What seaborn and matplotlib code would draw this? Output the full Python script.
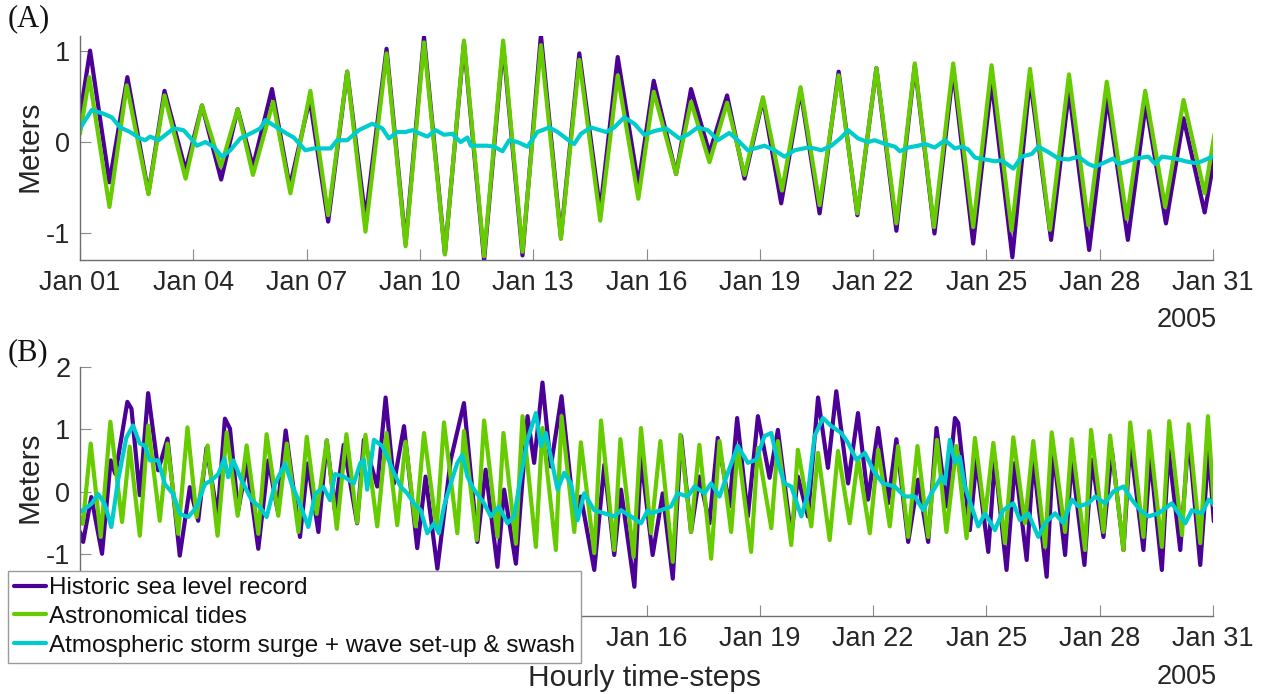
import matplotlib
matplotlib.use("Agg")
import matplotlib.pyplot as plt
import seaborn as sns
import pandas as pd

# ---------------- data (hour since Jan 01 00:00, metres) ----------------
# Panel A
sea_a = [(0,0.29),(6.4,1.00),(18.7,-0.44),(30.1,0.71),(43.5,-0.56),(53.7,0.56),(67.1,-0.31),(77.5,0.40),
         (89.7,-0.41),(100.2,0.36),(109.9,-0.27),(122.0,0.58),(133.3,-0.49),(146.0,0.47),(157.7,-0.87),
         (169.8,0.77),(181.4,-0.84),(194.8,1.02),(206.9,-1.11),(218.6,1.15),(231.9,-1.22),(244.0,1.08),
         (256.8,-1.29),(268.9,1.06),(281.2,-1.24),(292.9,1.17),(305.6,-1.04),(317.3,0.97),(330.6,-0.75),
         (341.7,0.93),(354.8,-0.47),(364.6,0.67),(378.8,-0.35),(388.3,0.58),(400.0,-0.12),(411.2,0.51),
         (422.3,-0.40),(434.0,0.47),(445.6,-0.67),(457.9,0.56),(470.0,-0.78),(482.1,0.77),(494.0,-0.80),
         (506.1,0.81),(518.8,-0.97),(530.5,0.84),(543.0,-1.00),(554.9,0.78),(567.6,-1.11),(579.3,0.66),
         (592.5,-1.26),(603.7,0.69),(617.1,-1.07),(628.5,0.56),(641.3,-1.18),(652.9,0.49),(665.9,-1.07),
         (677.3,0.42),(690.1,-0.89),(701.3,0.26),(714.7,-0.77),(721.5,-0.11)]

tide_a = [(0,0.09),(5.9,0.71),(18.7,-0.71),(29.7,0.62),(43.5,-0.57),(53.7,0.51),(67.1,-0.40),(77.5,0.40),
          (89.5,-0.27),(100.2,0.36),(109.9,-0.36),(122.7,0.44),(133.7,-0.56),(146.4,0.56),(157.7,-0.80),
          (169.8,0.77),(181.4,-0.98),(194.8,0.97),(206.9,-1.14),(218.6,1.09),(231.9,-1.23),(244.0,1.11),
          (256.8,-1.25),(268.9,1.11),(281.2,-1.20),(292.9,1.06),(305.6,-1.06),(317.3,0.90),(330.6,-0.86),
          (341.7,0.73),(354.8,-0.62),(364.6,0.55),(378.8,-0.35),(388.3,0.44),(400.0,-0.22),(411.2,0.43),
          (422.3,-0.36),(434.0,0.49),(446.1,-0.53),(457.9,0.60),(470.0,-0.69),(482.1,0.73),(494.0,-0.78),
          (506.1,0.81),(518.8,-0.89),(530.5,0.86),(542.7,-0.93),(554.9,0.86),(567.6,-0.93),(579.3,0.84),
          (592.0,-0.97),(603.7,0.80),(616.4,-0.96),(628.5,0.74),(640.8,-0.91),(652.5,0.66),(665.2,-0.84),
          (676.9,0.56),(689.6,-0.71),(701.3,0.46),(714.7,-0.56),(721.0,0.09)]

surge_a = [(0,0.15),(7.4,0.35),(14.9,0.31),(20.2,0.27),(25.5,0.16),(31.8,0.11),(38.2,0.04),(41.4,0.02),
           (44.6,0.06),(49.9,0.02),(55.2,0.09),(59.4,0.15),(65.8,0.13),(70.0,0.05),(74.3,-0.04),(79.6,0.00),
           (84.9,-0.05),(90.2,-0.16),(95.5,-0.09),(101.9,0.04),(110.3,0.11),(114.6,0.15),(117.8,0.24),
           (125.2,0.16),(131.6,0.09),(135.8,0.05),(143.2,-0.09),(148.5,-0.07),(154.9,-0.07),(159.2,-0.07),
           (163.4,0.02),(169.8,0.02),(177.2,0.13),(185.7,0.20),(192.1,0.15),(196.3,0.04),(201.6,0.11),
           (206.9,0.11),(211.2,0.13),(216.5,0.09),(220.7,0.06),(226.0,0.13),(231.3,0.08),(236.6,0.09),
           (241.9,0.00),(246.2,0.05),(248.3,-0.04),(252.5,-0.04),(258.9,-0.04),(263.1,-0.05),(268.5,-0.10),
           (272.7,0.02),(278.0,0.00),(284.4,-0.05),(290.7,0.11),(298.2,0.16),(303.5,0.11),(312.0,0.00),
           (314.1,-0.02),(318.3,0.09),(324.7,0.16),(334.2,0.11),(339.5,0.16),(345.9,0.27),(352.3,0.20),
           (358.6,0.08),(365.0,0.12),(372.4,0.15),(380.9,0.04),(386.2,0.08),(392.6,0.16),(399.0,0.13),
           (405.3,0.02),(412.7,0.10),(418.0,0.02),(424.4,-0.09),(435.0,-0.04),(441.4,-0.09),(447.7,-0.16),
           (454.1,-0.09),(462.6,-0.06),(466.8,-0.07),(471.1,-0.09),(477.5,-0.04),(483.8,0.05),(488.1,0.13),
           (494.4,0.04),(500.8,0.00),(505.0,0.02),(511.4,-0.02),(517.8,-0.05),(521.0,-0.10),(526.3,-0.06),
           (532.6,-0.04),(536.9,-0.02),(543.2,-0.06),(549.6,0.02),(555.9,-0.07),(560.2,-0.05),(564.4,-0.08),
           (568.7,-0.17),(575.1,-0.19),(581.4,-0.21),(585.7,-0.20),(593.1,-0.29),(598.4,-0.16),(604.8,-0.13),
           (609.0,-0.05),(615.4,-0.11),(621.7,-0.18),(628.1,-0.19),(634.5,-0.16),(640.8,-0.24),(645.1,-0.27),
           (651.4,-0.22),(656.7,-0.18),(659.9,-0.24),(664.2,-0.22),(670.5,-0.18),(679.0,-0.16),(683.3,-0.24),
           (687.5,-0.16),(696.0,-0.18),(702.4,-0.21),(708.7,-0.23),(713.0,-0.21),(719.4,-0.16)]

# Panel B
sea_b = [(0,-0.65),(2.0,-0.81),(7.2,-0.09),(14.0,-1.00),(19.5,0.50),(22.5,0.28),(30.1,1.44),(32.7,1.33),
         (38.0,-0.06),(43.3,1.58),(49.7,0.34),(55.6,0.85),(63.4,-1.03),(69.8,0.07),(75.1,-0.47),(80.4,0.70),
         (87.4,-0.40),(92.1,1.17),(95.3,1.01),(100.5,-0.31),(106.0,0.45),(113.3,-0.92),(119.7,0.50),
         (125.5,-0.30),(130.7,0.98),(139.8,-0.73),(144.7,0.45),(151.5,-0.65),(156.8,0.82),(162.0,-0.30),
         (167.6,0.75),(176.1,-0.51),(180.4,0.83),(188.9,0.08),(194.2,1.51),(199.5,0.13),(205.9,1.05),
         (214.3,-0.91),(219.6,0.24),(227.1,-1.24),(235.6,0.51),(244.0,1.42),(252.5,-0.81),(257.8,0.35),
         (265.3,-1.21),(269.5,0.03),(277.0,-1.16),(284.4,1.21),(288.6,0.46),(293.9,1.75),(299.2,0.40),
         (306.0,1.53),(314.1,-0.40),(318.3,-0.08),(326.8,-1.26),(333.2,0.43),(339.5,-1.02),(343.8,0.03),
         (352.3,-1.53),(356.5,0.56),(363.9,-1.02),(370.3,-0.03),(376.7,-1.40),(382.0,0.89),(388.3,-0.65),
         (393.6,0.24),(400.0,-0.51),(405.3,0.86),(412.7,-0.24),(417.6,1.18),(424.4,-0.40),(430.8,1.21),
         (438.2,0.22),(443.5,0.99),(452.0,-0.73),(456.2,0.24),(462.6,-0.40),(469.0,1.51),(475.3,0.38),
         (480.6,1.61),(488.1,0.13),(494.4,1.26),(500.8,-0.13),(507.2,1.02),(513.5,-0.19),(518.8,0.84),
         (526.3,-0.81),(532.6,0.19),(539.0,-0.81),(544.3,1.02),(550.6,-0.24),(556.0,1.18),(558.1,1.10),
         (565.5,-0.62),(569.7,0.51),(577.2,-0.97),(581.4,0.51),(588.8,-1.26),(594.2,0.46),(601.6,-1.10),
         (605.8,0.51),(614.3,-1.37),(618.5,0.67),(626.0,-1.02),(630.2,0.51),(638.3,-1.18),(643.0,0.51),
         (650.4,-0.73),(655.7,0.67),(663.1,-0.94),(667.4,0.78),(675.8,-0.94),(680.1,0.56),(687.5,-1.26),
         (691.8,0.67),(699.2,-0.94),(704.5,0.89),(711.9,-1.18),(717.2,0.67),(720.5,-0.48)]

tide_b = [(0,-0.41),(1.8,-0.52),(6.8,0.77),(13.2,-0.73),(19.3,1.12),(26.7,-0.49),(31.6,0.72),(38.0,-0.71),
          (43.3,1.06),(50.7,-0.47),(55.6,0.77),(62.4,-0.68),(68.3,1.03),(74.1,-0.41),(81.1,0.74),(87.4,-0.71),
          (93.2,0.95),(100.2,-0.39),(105.9,0.74),(113.3,-0.68),(118.6,0.92),(126.0,-0.39),(131.4,0.77),
          (138.8,-0.65),(144.1,0.88),(150.4,-0.36),(156.8,0.82),(163.2,-0.60),(169.3,0.92),(176.1,-0.50),
          (181.4,0.91),(188.9,-0.56),(194.8,0.94),(201.6,-0.54),(206.9,0.80),(213.3,-0.56),(218.6,0.94),
          (226.6,-0.60),(231.3,1.11),(239.8,-0.67),(244.0,0.97),(252.1,-0.78),(256.8,1.14),(265.3,-0.73),
          (269.1,0.94),(277.0,-0.84),(281.2,1.21),(289.7,-0.89),(293.9,1.02),(302.4,-0.94),(306.0,1.21),
          (314.1,-0.65),(318.3,0.79),(326.8,-0.99),(331.1,1.14),(339.5,-0.94),(343.4,0.84),(351.8,-1.05),
          (356.5,1.02),(362.9,-0.67),(368.8,0.81),(376.7,-1.13),(381.5,0.91),(388.3,-0.65),(393.6,0.75),
          (401.1,-1.08),(406.4,0.81),(413.8,-0.65),(418.0,0.73),(426.5,-0.97),(430.8,0.70),(439.3,-0.59),
          (443.5,0.81),(452.0,-0.86),(456.2,0.67),(464.7,-0.56),(469.0,0.62),(476.4,-0.78),(481.7,0.65),
          (489.1,-0.51),(494.4,0.54),(501.9,-0.67),(507.2,0.67),(514.6,-0.56),(519.9,0.73),(526.3,-0.73),
          (532.2,0.73),(539.0,-0.73),(544.6,0.83),(550.6,-0.65),(557.0,0.73),(563.4,-0.75),(568.7,0.86),
          (575.1,-0.40),(580.4,0.78),(587.8,-0.83),(593.1,0.87),(600.5,-0.51),(605.8,0.81),(613.3,-0.89),
          (617.5,0.95),(626.0,-0.65),(630.2,0.84),(638.7,-0.94),(642.5,0.99),(650.4,-0.65),(654.6,0.90),
          (663.1,-0.94),(667.4,1.11),(675.8,-0.73),(679.5,0.97),(687.5,-0.89),(692.2,1.13),(700.3,-0.70),
          (704.5,1.08),(711.9,-0.83),(716.8,1.21),(720.5,-0.22)]

surge_b = [(0,-0.33),(3.0,-0.28),(7.2,-0.20),(11.5,-0.04),(15.7,-0.20),(19.9,-0.57),(24.2,0.18),(29.5,0.87),
           (33.7,1.06),(38.0,0.77),(41.2,0.74),(44.4,0.50),(49.7,0.50),(53.9,0.12),(59.2,-0.04),(63.5,-0.36),
           (68.8,-0.41),(74.1,-0.25),(79.4,0.12),(83.6,0.18),(87.9,0.28),(91.7,0.53),(94.2,0.23),(97.4,0.50),
           (102.7,0.18),(109.1,-0.14),(114.4,-0.25),(118.6,-0.41),(123.9,0.12),(130.3,0.45),(134.5,0.12),
           (139.8,-0.20),(145.1,-0.57),(149.4,-0.04),(154.7,0.07),(158.9,-0.14),(162.1,0.28),(167.6,0.24),
           (174.0,0.13),(178.2,0.46),(180.4,0.51),(182.5,0.03),(186.8,0.83),(192.1,0.73),(195.2,0.56),
           (199.5,0.30),(203.7,0.08),(208.0,-0.03),(212.2,-0.19),(216.5,-0.30),(220.7,-0.67),(225.0,-0.51),
           (228.1,-0.67),(231.3,-0.24),(235.6,0.13),(239.8,0.46),(243.0,0.59),(246.2,0.24),(250.4,0.03),
           (256.8,-0.19),(261.0,-0.40),(266.3,-0.24),(271.6,-0.51),(275.9,-0.40),(280.1,0.24),(284.4,0.83),
           (289.7,1.26),(292.9,0.73),(296.0,0.94),(299.2,0.56),(303.5,0.03),(307.7,0.30),(312.0,0.13),
           (316.2,-0.46),(320.4,-0.03),(326.8,-0.30),(333.2,-0.35),(339.5,-0.40),(343.8,-0.30),(350.1,-0.40),
           (356.5,-0.51),(360.8,-0.30),(362.9,-0.35),(369.2,-0.30),(375.6,-0.24),(379.8,-0.03),(386.2,-0.08),
           (390.5,0.08),(396.8,-0.03),(401.1,0.13),(406.4,-0.08),(411.7,0.30),(418.0,0.73),(424.4,0.46),
           (429.7,0.51),(435.0,0.89),(439.3,0.94),(443.5,0.46),(447.7,0.13),(452.0,0.08),(458.4,-0.40),
           (462.6,-0.03),(466.8,0.89),(472.1,1.18),(477.5,1.05),(483.8,0.94),(488.1,0.78),(493.4,0.51),
           (498.7,0.62),(505.0,0.30),(510.3,0.13),(517.8,0.08),(524.1,-0.08),(530.5,-0.08),(535.8,-0.30),
           (541.1,-0.03),(547.5,0.24),(549.6,0.13),(552.8,0.83),(556.0,0.46),(559.1,0.56),(562.3,0.08),
           (566.6,-0.24),(570.8,-0.56),(575.1,-0.35),(581.4,-0.62),(586.7,-0.30),(593.1,-0.19),(597.3,-0.46),
           (602.6,-0.35),(609.0,-0.73),(613.2,-0.51),(619.6,-0.35),(624.9,-0.51),(630.2,-0.13),(634.5,-0.24),
           (640.8,-0.19),(645.1,-0.08),(651.4,-0.19),(656.7,0.00),(663.1,0.08),(668.4,-0.13),(673.7,-0.30),
           (679.0,-0.40),(685.4,-0.35),(693.9,-0.19),(702.4,-0.51),(706.6,-0.30),(713.0,-0.35),(717.2,-0.13),
           (720.0,-0.19)]

tick_hours = [0, 72, 144, 216, 288, 360, 432, 504, 576, 648, 720]
tick_labels = ["Jan 01", "Jan 04", "Jan 07", "Jan 10", "Jan 13", "Jan 16",
               "Jan 19", "Jan 22", "Jan 25", "Jan 28", "Jan 31"]
# in panel (B) the legend box hides the first five date labels and the -2 label
tick_labels_b = ["", "", "", "", "", "Jan 16", "Jan 19", "Jan 22", "Jan 25", "Jan 28", "Jan 31"]
series_names = ["Historic sea level record", "Astronomical tides",
                "Atmospheric storm surge + wave set-up & swash"]
series_colors = ["#4B0096", "#66CC00", "#00CCCC"]

# ---------------- style ----------------
sns.set_style("white")
plt.rcParams["font.family"] = ["Liberation Sans", "DejaVu Sans"]

W, H = 1262, 694
fig = plt.figure(figsize=(W / 100, H / 100), dpi=100)

def rect(left, top, right, bottom):
    return [left / W, 1 - bottom / H, (right - left) / W, (bottom - top) / H]

axA = fig.add_axes(rect(80, 36, 1213, 260))
axB = fig.add_axes(rect(80, 367, 1213, 616))

def to_df(pairs):
    return pd.DataFrame(pairs, columns=["hour", "m"])

lw = 3.0
for ax, data in ((axA, (sea_a, tide_a, surge_a)), (axB, (sea_b, tide_b, surge_b))):
    for pairs, name, col in zip(data, series_names, series_colors):
        sns.lineplot(data=to_df(pairs), x="hour", y="m", ax=ax, color=col, linewidth=lw,
                     estimator=None, label=name, legend=False,
                     solid_joinstyle="round", solid_capstyle="round")

axA.set_ylim(-1.29, 1.16)
axA.set_yticks([-1, 0, 1])
axA.set_yticklabels(["-1", "0", "1"])
axA.set_xticks(tick_hours)
axA.set_xticklabels(tick_labels)
axB.set_ylim(-2, 2)
axB.set_yticks([-2, -1, 0, 1, 2])
axB.set_yticklabels(["", "-1", "0", "1", "2"])
axB.set_xticks(tick_hours)
axB.set_xticklabels(tick_labels_b)

for ax in (axA, axB):
    ax.set_xlim(0, 720)
    ax.set_xlabel("")
    ax.set_ylabel("")
    for s in ("top", "right"):
        ax.spines[s].set_visible(False)
    for s in ("left", "bottom"):
        ax.spines[s].set_color("#6e6e6e")
        ax.spines[s].set_linewidth(1.0)
    ax.tick_params(axis="both", direction="in", length=8, width=0.8, color="#8a8a8a",
                   labelsize=19.5, labelcolor="#262626", left=True, bottom=True)
    ax.tick_params(axis="x", pad=7)
    ax.tick_params(axis="y", pad=7)
    ax.patch.set_alpha(0)

serif = ["Liberation Serif", "DejaVu Serif"]
fig.text(8 / W, 1 - 4 / H, "(A)", family=serif, fontsize=22, va="top", ha="left", color="#111111")
fig.text(8 / W, 1 - 338 / H, "(B)", family=serif, fontsize=22, va="top", ha="left", color="#111111")
fig.text(29 / W, 1 - 146 / H, "Meters", rotation=90, fontsize=21.5, va="center", ha="center", color="#262626")
fig.text(29 / W, 1 - 477 / H, "Meters", rotation=90, fontsize=21.5, va="center", ha="center", color="#262626")
fig.text(1187 / W, 1 - 320 / H, "2005", fontsize=19.5, va="center", ha="center", color="#262626")
fig.text(1187 / W, 1 - 677 / H, "2005", fontsize=19.5, va="center", ha="center", color="#262626")
fig.text(645 / W, 1 - 678 / H, "Hourly time-steps", fontsize=21.5, va="center", ha="center", color="#262626")

handles, labels = axB.get_legend_handles_labels()
leg = fig.legend(handles, labels, loc="upper left", bbox_to_anchor=(8 / W, 1 - 571 / H),
                 borderaxespad=0, frameon=True, fancybox=False, framealpha=1, edgecolor="#9a9a9a",
                 fontsize=17.5, handlelength=1.3, handletextpad=0.15, labelspacing=0.28,
                 borderpad=0.25)
leg.get_frame().set_linewidth(1.0)
for t in leg.get_texts():
    t.set_color("#111111")

fig.savefig("out.png", dpi=100, facecolor="white")
